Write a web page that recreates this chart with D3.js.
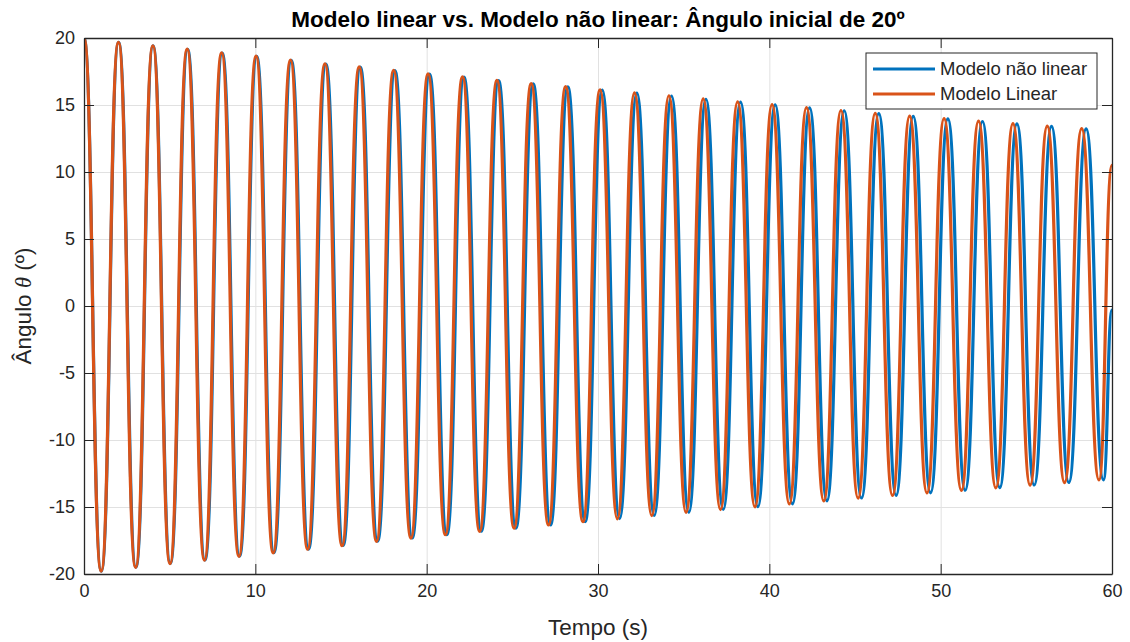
<html>
<head>
<meta charset="utf-8">
<script src="https://d3js.org/d3.v7.min.js"></script>
<style>
body { margin: 0; background: #ffffff; }
.chart text { font-family: "Liberation Sans", Arial, sans-serif; fill: #262626; }
.axis path, .axis line { stroke: #262626; }
.grid line { stroke: #e1e1e1; }
.grid path { stroke: none; }
</style>
</head>
<body>
<script>
// titles and ticks
var title = "Modelo linear vs. Modelo não linear: Ângulo inicial de 20º";
var xLabel = "Tempo (s)";
var xTicks = [0, 10, 20, 30, 40, 50, 60];
var yTicks = [-20, -15, -10, -5, 0, 5, 10, 15, 20];
var seriesNames = ["Modelo não linear", "Modelo Linear"];

// peaks and troughs (time in s, angle in degrees)
var tempoNaoLinear = [0, 1.01, 2.02, 3.03, 4.03, 5.04, 6.05, 7.06, 8.07, 9.08, 10.08, 11.09, 12.10, 13.11, 14.12, 15.13,
    16.13, 17.14, 18.15, 19.16, 20.17, 21.18, 22.18, 23.19, 24.20, 25.21, 26.22, 27.23, 28.24, 29.25, 30.25, 31.26,
    32.27, 33.28, 34.29, 35.30, 36.30, 37.31, 38.32, 39.33, 40.34, 41.35, 42.35, 43.36, 44.37, 45.38, 46.39, 47.40,
    48.40, 49.41, 50.42, 51.43, 52.44, 53.45, 54.45, 55.46, 56.47, 57.48, 58.49, 59.50, 60];
var anguloNaoLinear = [20, -19.78, 19.67, -19.49, 19.41, -19.21, 19.15, -18.95, 18.88, -18.67, 18.63, -18.41, 18.34, -18.14, 18.06, -17.87,
    17.82, -17.55, 17.56, -17.31, 17.31, -17.06, 17.08, -16.81, 16.82, -16.57, 16.58, -16.33, 16.35, -16.09, 16.11, -15.87,
    15.89, -15.63, 15.67, -15.39, 15.43, -15.18, 15.22, -14.98, 15.01, -14.76, 14.78, -14.54, 14.57, -14.33, 14.35, -14.13,
    14.15, -13.94, 13.96, -13.75, 13.77, -13.56, 13.59, -13.36, 13.40, -13.17, 13.22, -12.97, -0.3];

var tempoLinear = [0, 1.00, 2.01, 3.01, 4.02, 5.02, 6.02, 7.03, 8.03, 9.04, 10.04, 11.04, 12.05, 13.05, 14.06, 15.06,
    16.06, 17.07, 18.07, 19.08, 20.08, 21.09, 22.09, 23.09, 24.10, 25.10, 26.10, 27.11, 28.11, 29.12, 30.12, 31.13,
    32.13, 33.14, 34.14, 35.14, 36.14, 37.15, 38.15, 39.16, 40.16, 41.17, 42.17, 43.18, 44.18, 45.18, 46.18, 47.19,
    48.19, 49.20, 50.20, 51.21, 52.21, 53.22, 54.22, 55.22, 56.22, 57.23, 58.23, 59.24, 60];
var anguloLinear = [20, -19.78, 19.68, -19.50, 19.42, -19.22, 19.17, -18.96, 18.90, -18.68, 18.65, -18.42, 18.36, -18.15, 18.08, -17.88,
    17.84, -17.56, 17.58, -17.32, 17.33, -17.07, 17.10, -16.82, 16.84, -16.58, 16.60, -16.34, 16.37, -16.10, 16.13, -15.88,
    15.91, -15.64, 15.69, -15.40, 15.45, -15.19, 15.24, -14.99, 15.03, -14.77, 14.80, -14.55, 14.59, -14.34, 14.37, -14.14,
    14.17, -13.95, 13.98, -13.76, 13.79, -13.57, 13.61, -13.37, 13.42, -13.18, 13.24, -12.98, 10.5];

var colors = ["#0072bd", "#d95319"];

var svgWidth = 1130, svgHeight = 642;
var margin = {top: 38, right: 18, bottom: 68, left: 84};
var width = svgWidth - margin.left - margin.right;
var height = svgHeight - margin.top - margin.bottom;

var svg = d3.select("body").append("svg")
    .attr("width", svgWidth)
    .attr("height", svgHeight)
    .attr("class", "chart");

var chart = svg.append("g")
    .attr("transform", "translate(" + margin.left + "," + margin.top + ")");

var x = d3.scaleLinear().domain([0, 60]).range([0, width]);
var y = d3.scaleLinear().domain([-20, 20]).range([height, 0]);

// grid
chart.append("g")
    .attr("class", "grid")
    .attr("transform", "translate(0," + height + ")")
    .call(d3.axisBottom(x).tickValues(xTicks).tickSize(-height).tickFormat(""));
chart.append("g")
    .attr("class", "grid")
    .call(d3.axisLeft(y).tickValues(yTicks).tickSize(-width).tickFormat(""));

chart.append("clipPath").attr("id", "plotclip")
  .append("rect").attr("width", width).attr("height", height);

var series = [
    {name: seriesNames[0], t: tempoNaoLinear, v: anguloNaoLinear, color: colors[0]},
    {name: seriesNames[1], t: tempoLinear, v: anguloLinear, color: colors[1]}
];

var line = d3.line()
    .x(function(d) { return x(d[0]); })
    .y(function(d) { return y(d[1]); })
    .curve(d3.curveBumpX);

chart.append("g")
    .attr("clip-path", "url(#plotclip)")
  .selectAll("path")
    .data(series)
  .enter().append("path")
    .attr("fill", "none")
    .attr("stroke", function(d) { return d.color; })
    .attr("stroke-width", 3.2)
    .attr("d", function(d) { return line(d3.zip(d.t, d.v)); });

// axes (ticks point inward, box on all four sides)
var tickLen = 10;
var plainNum = function(d) { return String(d); };
chart.append("g")
    .attr("class", "axis")
    .attr("transform", "translate(0," + height + ")")
    .call(d3.axisBottom(x).tickValues(xTicks).tickFormat(plainNum).tickSizeInner(-tickLen).tickSizeOuter(0).tickPadding(10))
    .selectAll("text").style("font-size", "18px");
chart.append("g")
    .attr("class", "axis")
    .call(d3.axisLeft(y).tickValues(yTicks).tickFormat(plainNum).tickSizeInner(-tickLen).tickSizeOuter(0).tickPadding(9))
    .selectAll("text").style("font-size", "18px");
chart.append("g")
    .attr("class", "axis")
    .call(d3.axisTop(x).tickValues(xTicks).tickSizeInner(-tickLen).tickSizeOuter(0).tickFormat(""));
chart.append("g")
    .attr("class", "axis")
    .attr("transform", "translate(" + width + ",0)")
    .call(d3.axisRight(y).tickValues(yTicks).tickSizeInner(-tickLen).tickSizeOuter(0).tickFormat(""));
chart.selectAll(".axis path").attr("stroke-width", 1.3);

// title and labels
svg.append("text")
    .attr("x", margin.left + width / 2)
    .attr("y", 27)
    .attr("text-anchor", "middle")
    .style("font-size", "22.5px")
    .style("font-weight", "bold")
    .style("fill", "#000")
    .text(title);

svg.append("text")
    .attr("x", margin.left + width / 2)
    .attr("y", 635)
    .attr("text-anchor", "middle")
    .style("font-size", "22.5px")
    .text(xLabel);

var yl = svg.append("text")
    .attr("transform", "translate(31," + (margin.top + height / 2) + ") rotate(-90)")
    .attr("text-anchor", "middle")
    .style("font-size", "22.5px");
yl.append("tspan").text("Ângulo ");
yl.append("tspan").style("font-style", "italic").style("font-family", "'Liberation Serif', serif").text("θ");
yl.append("tspan").text(" (º)");

// legend
var legend = svg.append("g").attr("transform", "translate(866,53)");
legend.append("rect")
    .attr("width", 231)
    .attr("height", 56)
    .attr("fill", "#fff")
    .attr("stroke", "#262626");
var entry = legend.selectAll("g.entry")
    .data(series)
  .enter().append("g")
    .attr("class", "entry")
    .attr("transform", function(d, i) { return "translate(0," + (16 + i * 25) + ")"; });
entry.append("line")
    .attr("x1", 7).attr("x2", 69)
    .attr("stroke", function(d) { return d.color; })
    .attr("stroke-width", 3.2);
entry.append("text")
    .attr("x", 74)
    .attr("dy", "0.35em")
    .style("font-size", "18.5px")
    .text(function(d) { return d.name; });
</script>
</body>
</html>
